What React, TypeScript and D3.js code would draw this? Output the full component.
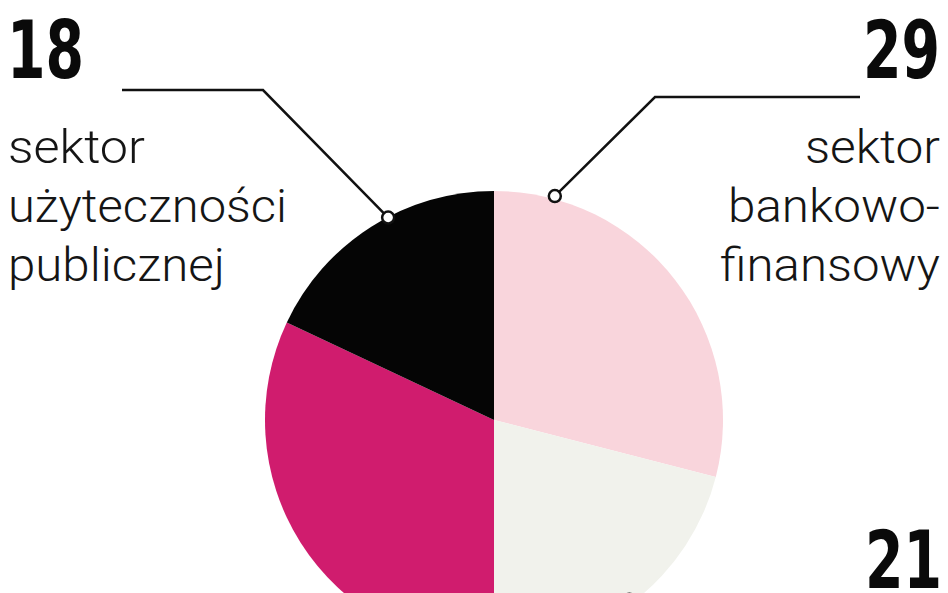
import React from "react";
import * as d3 from "d3";

const sectors = ["bankowo-finansowy", "inny", "pozostałe", "użyteczności publicznej"];
const values = [29, 21, 32, 18];
const colors = ["#f9d5dc", "#f1f2ec", "#d01c6e", "#050505"];

const W = 948;
const H = 593;
const cx = 494;
const cy = 420;
const R = 229;

const LABEL_FONT = "Roboto, 'DejaVu Sans Condensed', sans-serif";
const NUM_FONT = "'DejaVu Sans Condensed', 'DejaVu Sans', sans-serif";

export default function App() {
  const pie = d3.pie<number>().sort(null).startAngle(0).endAngle(2 * Math.PI);
  const arcs = pie(values);
  const arc = d3.arc<d3.PieArcDatum<number>>().innerRadius(0).outerRadius(R);

  const pt = (deg: number, r: number) => {
    const a = (deg * Math.PI) / 180;
    return [cx + r * Math.sin(a), cy - r * Math.cos(a)];
  };

  const blackAnchor = pt(332.4, R - 0.5);
  const pinkAnchor = pt(15.2, R + 3);
  const greyAnchor = pt(143, R - 4);

  const lbl = { fontFamily: LABEL_FONT, fontSize: 46, fill: "#151515", fontWeight: 300 } as const;
  const num = { fontFamily: NUM_FONT, fontSize: 81, fill: "#0a0a0a", fontWeight: 700 } as const;
  const sx = 0.76;

  return (
    <svg
      width={W}
      height={H}
      style={{ position: "absolute", left: 0, top: 0, background: "#fff" }}
    >
      <rect width={W} height={H} fill="#fff" />
      <g>
        {arcs.map((a, i) => (
          <path key={sectors[i]} d={arc(a) || ""} transform={`translate(${cx},${cy})`} fill={colors[i]} />
        ))}
      </g>

      {/* left label: 18 */}
      <text transform={`translate(7,78) scale(${sx},1)`} {...num}>
        {values[3]}
      </text>
      <text x={8} y={163} {...lbl} textLength={137} lengthAdjust="spacingAndGlyphs">sektor</text>
      <text x={8} y={222} {...lbl} textLength={279} lengthAdjust="spacingAndGlyphs">użyteczności</text>
      <text x={8} y={281} {...lbl} textLength={217} lengthAdjust="spacingAndGlyphs">publicznej</text>
      <polyline
        points={`122,90 263,90 ${blackAnchor[0]},${blackAnchor[1]}`}
        fill="none"
        stroke="#111"
        strokeWidth={2.5}
      />
      <circle cx={blackAnchor[0]} cy={blackAnchor[1]} r={6} fill="#fff" stroke="#111" strokeWidth={2.5} />

      {/* right label: 29 */}
      <text transform={`translate(940,78) scale(${sx},1)`} {...num} textAnchor="end">
        {values[0]}
      </text>
      <text x={940} y={163} {...lbl} textAnchor="end" textLength={135} lengthAdjust="spacingAndGlyphs">sektor</text>
      <text x={940} y={222} {...lbl} textAnchor="end" textLength={212} lengthAdjust="spacingAndGlyphs">bankowo-</text>
      <text x={940} y={281} {...lbl} textAnchor="end" textLength={220} lengthAdjust="spacingAndGlyphs">finansowy</text>
      <polyline
        points={`860,97 655,97 ${pinkAnchor[0]},${pinkAnchor[1]}`}
        fill="none"
        stroke="#111"
        strokeWidth={2.5}
      />
      <circle cx={pinkAnchor[0]} cy={pinkAnchor[1]} r={6} fill="#fff" stroke="#111" strokeWidth={2.5} />

      {/* bottom right: 21 */}
      <text transform={`translate(942,588) scale(${sx},1)`} {...num} textAnchor="end">
        {values[1]}
      </text>
      <circle cx={greyAnchor[0]} cy={greyAnchor[1]} r={6} fill="#fff" stroke="#111" strokeWidth={2.5} />
    </svg>
  );
}
